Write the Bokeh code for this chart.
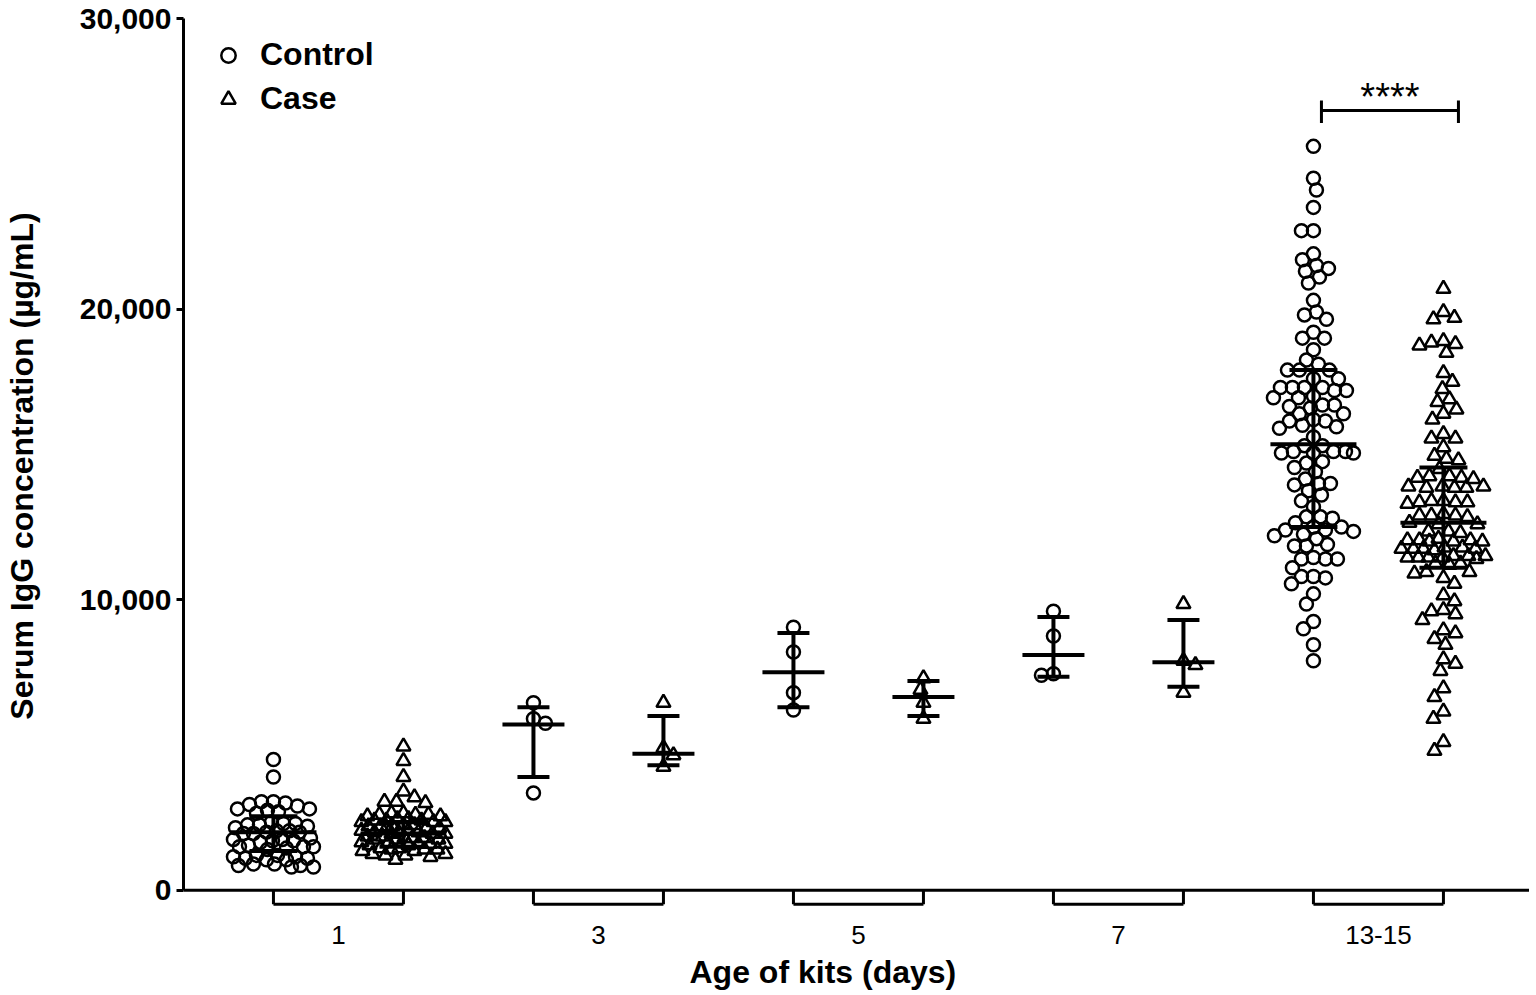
from bokeh.plotting import figure
from bokeh.models import Range1d, FixedTicker, NumeralTickFormatter, Span, Legend, LegendItem, Title
from bokeh.core.properties import value
from bokeh.embed import file_html
from bokeh.resources import INLINE

# ---------------- data ----------------
age_groups = ["1", "3", "5", "7", "13-15"]

control_d1 = [4500, 3900,
              3050, 3000, 2950, 3050, 2900,
              2800, 2750, 2700, 2800, 2650,
              2300, 2250, 2200, 2350, 2250, 2150, 2300,
              2050, 2000, 1950, 2000, 2050, 1950,
              1750, 1700, 1800, 1650, 1750, 1700,
              1500, 1450, 1550, 1500, 1400, 1500,
              1200, 1150, 1100, 1050, 1150, 1100, 1200, 1050,
              900, 850, 800, 800, 850, 900]
case_d1 = [4950, 4450, 3900, 3400, 3200, 3050, 3000, 3050,
           2650, 2600, 2550, 2650, 2600, 2550, 2600,
           2400, 2350, 2450, 2400, 2350, 2450, 2400, 2350,
           2200, 2150, 2250, 2200, 2150, 2250, 2200, 2150,
           2000, 1950, 2050, 2000, 1950, 2050, 2000, 1950,
           1800, 1750, 1850, 1800, 1750, 1850, 1800, 1750,
           1600, 1550, 1650, 1600, 1550, 1650, 1600,
           1400, 1350, 1450, 1400, 1350, 1450, 1400,
           1250, 1200, 1150, 1250, 1200,
           1050]
control_d3 = [6450, 5900, 5750, 3350]
case_d3 = [6450, 4900, 4650, 4250]
control_d5 = [9050, 8200, 6800, 6200]
case_d5 = [7300, 6900, 6450, 5900]
control_d7 = [9600, 8750, 7400, 7450]
case_d7 = [9850, 7900, 7750, 6800]
control_d13 = [25600, 24500, 24100, 23500, 22700, 22700, 21900, 21400, 21500, 21700,
               21300, 21100, 20900, 20300, 19800, 19650, 19900, 19200, 19000, 19000,
               18600, 18250, 18100,
               17900, 17900, 17900, 17600, 17600, 17300, 17300, 17300, 17300, 17200,
               17200, 17000, 16950, 16950, 16700, 16700, 16650, 16600, 16400, 16400,
               16200, 16150, 16150, 16000,
               15950, 15900, 15600, 15300, 15300, 15100, 15050, 15100, 15050, 15100,
               15050, 14750, 14700, 14550, 14400, 14150, 14000, 13950, 14000, 13750,
               13600, 13400, 13200, 12850, 12850, 12800, 12650, 12500, 12500, 12400,
               12350, 12400, 12200, 12250, 12100, 11850, 11900, 11850, 11400, 11450,
               11400, 11400, 11100, 10800, 10750, 10800, 10550, 10200, 9850, 9250,
               9000, 8450, 7900]
case_d13 = [20700, 19650, 19700, 19900, 18850, 18800, 18500, 18750, 18900, 17800,
            17250, 17500, 16800, 16900, 16550, 16400, 16200, 15550, 15550, 15700,
            15250, 14800, 14850, 14950, 14500,
            14250, 14200, 14150, 14200, 14250, 13900, 13850, 13900, 13850, 13900,
            13850, 13350, 13400, 13350, 13300, 13400, 13350, 12900, 12950, 12900,
            12850, 12900, 12600, 12650, 12600, 12350, 12300, 12350, 12050, 12000,
            12050, 12100, 12000, 12050, 12000, 11750, 11800, 11750, 11700, 11750,
            11800, 11750, 11450, 11500, 11450, 11400, 11500, 11450, 11450, 11500,
            11250, 11200, 11250, 10950, 10950, 10900, 10750, 10550, 10150, 9950,
            9650, 9600, 9500, 9300, 8950, 8850, 8650, 8450, 7950, 7800,
            7550, 6950, 6650, 6150, 5900, 5100, 4800]

control_median = [2000, 5700, 7500, 8100, 15350]
control_q1 = [1350, 3900, 6300, 7350, 12500]
control_q3 = [2550, 6300, 8850, 9400, 17900]
case_median = [1950, 4700, 6650, 7850, 12650]
case_q1 = [1500, 4300, 6000, 7000, 11100]
case_q3 = [2350, 6000, 7200, 9300, 14550]

y_ticks = [0, 10000, 20000, 30000]

# ---------------- layout / style ----------------
FONT = "Liberation Sans"
FRAME_W, FRAME_H = 1346, 895
X0, X1 = -0.692, 9.662
Y0, Y1 = -800, 30000
PX_X = FRAME_W / (X1 - X0)
PX_Y = FRAME_H / (Y1 - Y0)

p = figure(frame_width=FRAME_W, frame_height=FRAME_H,
           x_range=Range1d(X0, X1), y_range=Range1d(Y0, Y1),
           output_backend="svg", toolbar_location=None,
           min_border_left=174, min_border_right=0,
           min_border_top=18, min_border_bottom=0)
p.outline_line_color = None
p.xgrid.grid_line_color = None
p.ygrid.grid_line_color = None
p.background_fill_color = "white"
p.border_fill_color = "white"

# y axis
ya = p.yaxis[0]
ya.bounds = (0, 30000)
ya.ticker = FixedTicker(ticks=y_ticks)
ya.formatter = NumeralTickFormatter(format="0,0")
ya.axis_line_width = 3
ya.axis_line_color = "black"
ya.major_tick_line_width = 3
ya.major_tick_out = 7
ya.major_tick_in = 0
ya.minor_tick_line_color = None
ya.major_label_standoff = 5
ya.major_label_text_font = FONT
ya.major_label_text_font_size = "30px"
ya.major_label_text_font_style = "bold"
ya.major_label_text_color = "black"
ya.axis_label = "Serum IgG concentration (µg/mL)"
ya.axis_label_text_font = FONT
ya.axis_label_text_font_size = "32px"
ya.axis_label_text_font_style = "bold"
ya.axis_label_text_color = "black"
ya.axis_label_standoff = 37

# x axis (labels only; line & brackets drawn below)
xa = p.xaxis[0]
label_pos = [2 * k + 0.5 for k in range(len(age_groups))]
xa.ticker = FixedTicker(ticks=label_pos)
xa.major_label_overrides = {pos: lab for pos, lab in zip(label_pos, age_groups)}
xa.axis_line_color = None
xa.major_tick_line_color = None
xa.minor_tick_line_color = None
xa.major_label_standoff = 6
xa.major_label_text_font = FONT
xa.major_label_text_font_size = "26px"
xa.major_label_text_color = "black"

p.add_layout(Title(text="Age of kits (days)", align="left", offset=506,
                   text_font=FONT, text_font_size="32px", text_font_style="bold",
                   text_color="black"), "below")

p.add_layout(Span(location=0, dimension="width", line_color="black", line_width=3))

# group brackets below the x axis
BR = -480
bx0, by0, bx1, by1 = [], [], [], []
for k in range(len(age_groups)):
    a, b = 2 * k, 2 * k + 1
    bx0 += [a, b, a]; by0 += [0, 0, BR]
    bx1 += [a, b, b]; by1 += [BR, BR, BR]
p.segment(x0=bx0, y0=by0, x1=bx1, y1=by1, line_color="black", line_width=3)


# ---------------- beeswarm layout ----------------
def swarm(vals, d, W):
    ys = [v * PX_Y for v in vals]
    order = sorted(range(len(vals)), key=lambda i: -vals[i])
    placed = []
    offs = [0.0] * len(vals)
    cands = [0]
    for k in range(1, int(W) + 1):
        cands += [k, -k]
    for idx, i in enumerate(order):
        y = ys[i]
        near = [(px, py) for px, py in placed if abs(py - y) < d]
        flip = 1 if idx % 2 == 0 else -1
        best, bestc, bestd = None, 0, -1
        for c in cands:
            c = c * flip
            md = min(((c - px) ** 2 + (y - py) ** 2 for px, py in near), default=1e9)
            if md >= d * d:
                best = c
                break
            if md > bestd:
                bestd, bestc = md, c
        if best is None:
            best = bestc
        offs[i] = best
        placed.append((best, y))
    return [o / PX_X for o in offs]


controls = [control_d1, control_d3, control_d5, control_d7, control_d13]
cases = [case_d1, case_d3, case_d5, case_d7, case_d13]

for k in range(len(age_groups)):
    xc, xk = 2 * k, 2 * k + 1
    oc = swarm(controls[k], 12, 40)
    p.scatter(x=[xc + o for o in oc], y=controls[k], marker="circle", size=13,
              line_color="black", line_width=2.5, fill_color=None)
    ok = swarm(cases[k], 12, 42)
    p.scatter(x=[xk + o for o in ok], y=cases[k], marker="triangle", size=14,
              line_color="black", line_width=2.5, fill_color=None)

# median with interquartile range
med_half_px = [43, 31, 31, 31, 43]
cap_half_px = [24, 16, 16, 16, 24]
ex0, ey0, ex1, ey1 = [], [], [], []
for k in range(len(age_groups)):
    for x, m, lo, hi in [(2 * k, control_median[k], control_q1[k], control_q3[k]),
                         (2 * k + 1, case_median[k], case_q1[k], case_q3[k])]:
        mh = med_half_px[k] / PX_X
        ch = cap_half_px[k] / PX_X
        ex0 += [x, x - mh, x - ch, x - ch]
        ex1 += [x, x + mh, x + ch, x + ch]
        ey0 += [lo, m, lo, hi]
        ey1 += [hi, m, lo, hi]
p.segment(x0=ex0, y0=ey0, x1=ex1, y1=ey1, line_color="black", line_width=4)

# significance bracket between the 13-15 columns
sx0 = 8 + 8 / PX_X
sx1 = 9 + 15 / PX_X
sy, stop, sbot = 26830, 27180, 26400
p.segment(x0=[sx0, sx0, sx1], y0=[sy, stop, stop], x1=[sx1, sx0, sx1], y1=[sy, sbot, sbot],
          line_color="black", line_width=3)
p.text(x=[(sx0 + sx1) / 2], y=[27300], text=["****"], text_font=value(FONT),
       text_font_size="38px", text_align="center", text_baseline="alphabetic",
       text_color="black")

# legend (marker icons from off-range dummy points)
r_c = p.scatter(x=[-50], y=[-50000], marker="circle", size=10, line_color="black",
                line_width=2.5, fill_color=None)
r_t = p.scatter(x=[-50], y=[-50000], marker="triangle", size=11, line_color="black",
                line_width=2.5, fill_color=None)
legend = Legend(items=[LegendItem(label="Control", renderers=[r_c]),
                       LegendItem(label="Case", renderers=[r_t])],
                location="top_left", margin=18, padding=26, spacing=7,
                glyph_width=54, glyph_height=36, label_height=36, label_standoff=5,
                label_text_font=FONT, label_text_font_size="32px",
                label_text_font_style="bold", label_text_color="black",
                border_line_color=None, background_fill_alpha=0)
p.add_layout(legend)

open("out.html", "w").write(file_html(p, INLINE))
